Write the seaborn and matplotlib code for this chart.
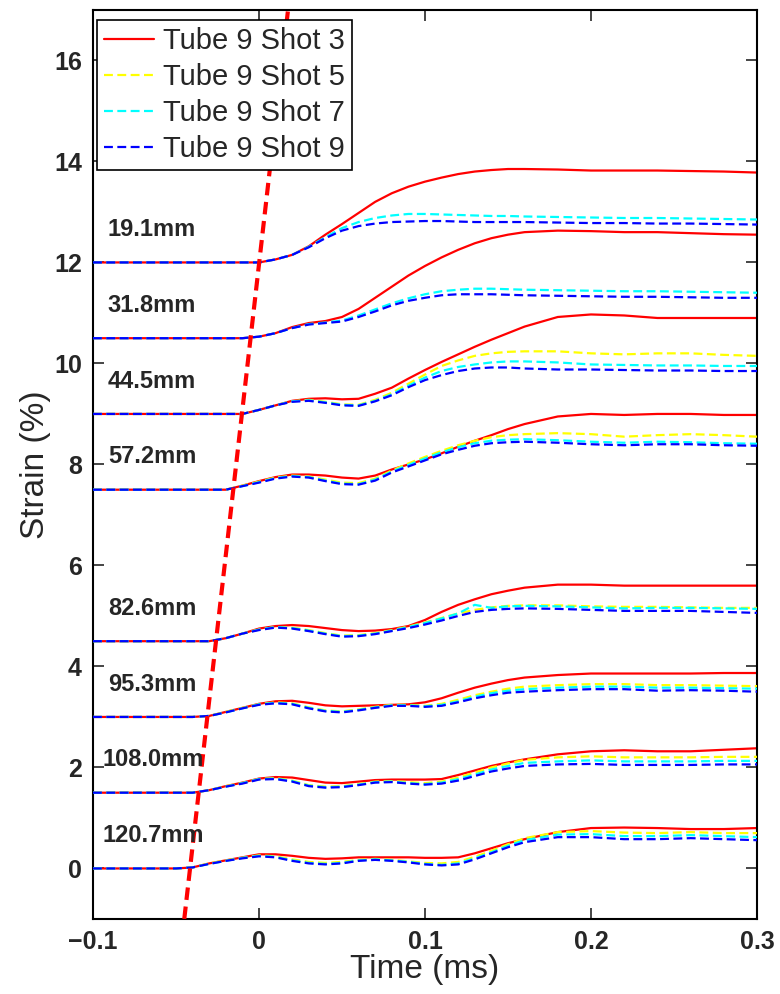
import numpy as np
import matplotlib
matplotlib.use("Agg")
import matplotlib.pyplot as plt
import seaborn as sns

# time axis (ms)
time_ms = [-0.1, -0.05, -0.04, -0.03, -0.02, -0.01, 0.0, 0.01, 0.02, 0.03, 0.04,
           0.05, 0.06, 0.07, 0.08, 0.09, 0.10, 0.11, 0.12, 0.13, 0.14, 0.15, 0.16,
           0.18, 0.20, 0.22, 0.24, 0.26, 0.28, 0.30]

gauges = ["19.1mm", "31.8mm", "44.5mm", "57.2mm", "82.6mm", "95.3mm", "108.0mm", "120.7mm"]
offsets = [12, 10.5, 9, 7.5, 4.5, 3, 1.5, 0]

# strain rise above each offset (%), one row per gauge
shot3 = [
    [0, 0, 0, 0, 0, 0, 0, 0.06, 0.15, 0.32, 0.55, 0.76, 0.98, 1.2, 1.37, 1.5, 1.6, 1.68, 1.75, 1.8, 1.83, 1.85, 1.85, 1.84, 1.82, 1.82, 1.82, 1.81, 1.8, 1.78],
    [0, 0, 0, 0, 0, 0, 0.03, 0.1, 0.22, 0.3, 0.34, 0.42, 0.58, 0.8, 1.02, 1.24, 1.43, 1.6, 1.75, 1.88, 1.98, 2.05, 2.1, 2.13, 2.12, 2.1, 2.1, 2.08, 2.06, 2.05],
    [0, 0, 0, 0, 0, 0.0, 0.08, 0.17, 0.26, 0.3, 0.31, 0.29, 0.3, 0.4, 0.52, 0.7, 0.87, 1.03, 1.18, 1.33, 1.47, 1.6, 1.73, 1.92, 1.97, 1.95, 1.9, 1.9, 1.9, 1.9],
    [0, 0, 0, 0, 0.0, 0.08, 0.17, 0.25, 0.3, 0.3, 0.28, 0.24, 0.22, 0.28, 0.4, 0.5, 0.6, 0.72, 0.85, 0.97, 1.08, 1.2, 1.3, 1.45, 1.5, 1.48, 1.5, 1.5, 1.48, 1.48],
    [0, 0, 0, 0.0, 0.06, 0.15, 0.25, 0.3, 0.32, 0.3, 0.26, 0.22, 0.2, 0.21, 0.24, 0.3, 0.42, 0.58, 0.72, 0.83, 0.93, 1.0, 1.06, 1.12, 1.12, 1.1, 1.1, 1.1, 1.1, 1.1],
    [0, 0, 0, 0.02, 0.1, 0.18, 0.26, 0.31, 0.32, 0.28, 0.23, 0.21, 0.22, 0.23, 0.24, 0.25, 0.29, 0.37, 0.48, 0.58, 0.66, 0.73, 0.78, 0.83, 0.86, 0.86, 0.86, 0.86, 0.87, 0.87],
    [0, 0, 0, 0.05, 0.13, 0.2, 0.28, 0.31, 0.3, 0.25, 0.2, 0.19, 0.22, 0.25, 0.26, 0.26, 0.26, 0.27, 0.35, 0.44, 0.53, 0.6, 0.66, 0.76, 0.82, 0.84, 0.82, 0.82, 0.85, 0.88],
    [0, 0, 0.02, 0.1, 0.16, 0.22, 0.28, 0.28, 0.25, 0.21, 0.19, 0.2, 0.22, 0.22, 0.22, 0.22, 0.21, 0.21, 0.22, 0.3, 0.4, 0.5, 0.58, 0.72, 0.8, 0.81, 0.8, 0.78, 0.78, 0.8],
]
shot5 = [
    None,
    None,
    [0, 0, 0, 0, 0, 0.0, 0.08, 0.17, 0.25, 0.28, 0.24, 0.19, 0.18, 0.28, 0.42, 0.6, 0.78, 0.95, 1.06, 1.15, 1.2, 1.23, 1.24, 1.24, 1.2, 1.18, 1.2, 1.2, 1.17, 1.15],
    [0, 0, 0, 0, 0.0, 0.08, 0.16, 0.24, 0.28, 0.26, 0.2, 0.14, 0.13, 0.22, 0.38, 0.52, 0.65, 0.77, 0.88, 0.97, 1.04, 1.08, 1.1, 1.12, 1.1, 1.05, 1.08, 1.1, 1.08, 1.05],
    [0, 0, 0, 0.0, 0.06, 0.15, 0.23, 0.28, 0.27, 0.22, 0.16, 0.11, 0.12, 0.16, 0.22, 0.29, 0.37, 0.46, 0.55, 0.62, 0.67, 0.7, 0.71, 0.71, 0.69, 0.68, 0.68, 0.67, 0.66, 0.66],
    [0, 0, 0, 0.02, 0.1, 0.18, 0.25, 0.29, 0.27, 0.19, 0.13, 0.11, 0.15, 0.2, 0.24, 0.24, 0.22, 0.26, 0.34, 0.43, 0.5, 0.56, 0.6, 0.63, 0.65, 0.65, 0.63, 0.63, 0.62, 0.61],
    [0, 0, 0, 0.05, 0.13, 0.19, 0.27, 0.29, 0.24, 0.15, 0.12, 0.13, 0.17, 0.22, 0.23, 0.21, 0.19, 0.22, 0.3, 0.4, 0.5, 0.58, 0.65, 0.7, 0.72, 0.7, 0.7, 0.7, 0.71, 0.71],
    [0, 0, 0.02, 0.1, 0.16, 0.21, 0.26, 0.24, 0.18, 0.13, 0.11, 0.13, 0.17, 0.19, 0.17, 0.14, 0.11, 0.1, 0.13, 0.23, 0.35, 0.48, 0.6, 0.72, 0.74, 0.71, 0.7, 0.72, 0.7, 0.7],
]
shot7 = [
    [0, 0, 0, 0, 0, 0, 0, 0.06, 0.15, 0.31, 0.5, 0.68, 0.8, 0.88, 0.93, 0.96, 0.96, 0.95, 0.94, 0.93, 0.92, 0.92, 0.91, 0.9, 0.89, 0.88, 0.88, 0.87, 0.86, 0.85],
    [0, 0, 0, 0, 0, 0, 0.03, 0.1, 0.2, 0.28, 0.31, 0.35, 0.45, 0.57, 0.69, 0.79, 0.87, 0.93, 0.96, 0.98, 0.98, 0.97, 0.96, 0.95, 0.94, 0.93, 0.93, 0.92, 0.91, 0.9],
    [0, 0, 0, 0, 0, 0.0, 0.08, 0.17, 0.25, 0.27, 0.23, 0.18, 0.17, 0.26, 0.39, 0.56, 0.72, 0.85, 0.93, 0.98, 1.02, 1.04, 1.04, 1.02, 0.98, 0.97, 0.96, 0.96, 0.95, 0.95],
    [0, 0, 0, 0, 0.0, 0.07, 0.15, 0.23, 0.27, 0.25, 0.18, 0.12, 0.11, 0.2, 0.36, 0.49, 0.62, 0.74, 0.84, 0.92, 0.97, 0.99, 1.0, 0.98, 0.95, 0.93, 0.95, 0.94, 0.92, 0.91],
    [0, 0, 0, 0.0, 0.06, 0.15, 0.23, 0.28, 0.26, 0.21, 0.15, 0.1, 0.11, 0.15, 0.21, 0.28, 0.36, 0.45, 0.55, 0.72, 0.66, 0.69, 0.7, 0.69, 0.67, 0.65, 0.66, 0.66, 0.65, 0.64],
    [0, 0, 0, 0.02, 0.09, 0.17, 0.25, 0.28, 0.26, 0.18, 0.12, 0.1, 0.14, 0.19, 0.23, 0.23, 0.21, 0.24, 0.31, 0.4, 0.47, 0.52, 0.55, 0.58, 0.6, 0.6, 0.58, 0.58, 0.57, 0.56],
    [0, 0, 0, 0.05, 0.12, 0.19, 0.27, 0.28, 0.23, 0.14, 0.11, 0.12, 0.16, 0.21, 0.22, 0.19, 0.17, 0.2, 0.27, 0.36, 0.46, 0.53, 0.59, 0.62, 0.64, 0.62, 0.62, 0.62, 0.63, 0.63],
    [0, 0, 0.02, 0.09, 0.15, 0.21, 0.25, 0.23, 0.16, 0.11, 0.09, 0.11, 0.16, 0.18, 0.16, 0.13, 0.09, 0.07, 0.1, 0.2, 0.32, 0.45, 0.56, 0.67, 0.68, 0.64, 0.64, 0.66, 0.64, 0.62],
]
shot9 = [
    [0, 0, 0, 0, 0, 0, 0, 0.06, 0.15, 0.3, 0.48, 0.63, 0.72, 0.77, 0.8, 0.81, 0.82, 0.82, 0.81, 0.8, 0.8, 0.8, 0.8, 0.79, 0.78, 0.78, 0.77, 0.77, 0.76, 0.75],
    [0, 0, 0, 0, 0, 0, 0.03, 0.1, 0.2, 0.27, 0.3, 0.33, 0.42, 0.53, 0.65, 0.74, 0.8, 0.85, 0.87, 0.87, 0.87, 0.86, 0.85, 0.84, 0.83, 0.82, 0.82, 0.81, 0.8, 0.8],
    [0, 0, 0, 0, 0, 0.0, 0.08, 0.17, 0.24, 0.26, 0.22, 0.17, 0.16, 0.25, 0.37, 0.53, 0.67, 0.77, 0.85, 0.9, 0.92, 0.92, 0.9, 0.88, 0.88, 0.87, 0.86, 0.86, 0.85, 0.85],
    [0, 0, 0, 0, 0.0, 0.07, 0.14, 0.22, 0.26, 0.24, 0.17, 0.11, 0.1, 0.18, 0.34, 0.46, 0.58, 0.7, 0.79, 0.87, 0.92, 0.94, 0.95, 0.93, 0.9, 0.88, 0.9, 0.9, 0.88, 0.87],
    [0, 0, 0, 0.0, 0.06, 0.15, 0.22, 0.27, 0.25, 0.2, 0.14, 0.09, 0.1, 0.14, 0.2, 0.26, 0.33, 0.41, 0.5, 0.58, 0.62, 0.64, 0.65, 0.64, 0.62, 0.6, 0.6, 0.6, 0.58, 0.56],
    [0, 0, 0, 0.02, 0.09, 0.17, 0.24, 0.27, 0.25, 0.17, 0.11, 0.09, 0.13, 0.18, 0.22, 0.22, 0.2, 0.22, 0.29, 0.37, 0.43, 0.48, 0.5, 0.53, 0.55, 0.55, 0.52, 0.53, 0.52, 0.5],
    [0, 0, 0, 0.05, 0.12, 0.18, 0.26, 0.27, 0.22, 0.13, 0.1, 0.11, 0.15, 0.2, 0.21, 0.18, 0.16, 0.18, 0.24, 0.33, 0.42, 0.48, 0.53, 0.56, 0.57, 0.55, 0.55, 0.55, 0.56, 0.56],
    [0, 0, 0.02, 0.09, 0.15, 0.2, 0.24, 0.22, 0.15, 0.1, 0.08, 0.1, 0.15, 0.17, 0.15, 0.12, 0.08, 0.06, 0.08, 0.18, 0.3, 0.42, 0.52, 0.62, 0.62, 0.58, 0.58, 0.6, 0.58, 0.56],
]

# wave arrival line
arrival_t = [-0.045, 0.0175]
arrival_strain = [-1, 17]

series_names = ["Tube 9 Shot 3", "Tube 9 Shot 5", "Tube 9 Shot 7", "Tube 9 Shot 9"]
series_data = [shot3, shot5, shot7, shot9]
series_colors = ["#ff0000", "#ffff00", "#00ffff", "#0000ff"]

xtick_vals = [-0.1, 0, 0.1, 0.2, 0.3]
xtick_labels = ["\u22120.1", "0", "0.1", "0.2", "0.3"]
ytick_vals = [0, 2, 4, 6, 8, 10, 12, 14, 16]

sns.set_style("ticks")
plt.rcParams["font.family"] = ["Liberation Sans", "DejaVu Sans"]
plt.rcParams["xtick.direction"] = "in"
plt.rcParams["ytick.direction"] = "in"

fig = plt.figure(figsize=(7.8, 9.94), dpi=100)
ax = fig.add_axes([0.1192, 0.0755, 0.8513, 0.9145])

t = np.array(time_ms)
for g, base in enumerate(offsets):
    for k, (name, data, col) in enumerate(zip(series_names, series_data, series_colors)):
        row = data[g]
        if row is None:
            continue
        ls = "-" if k == 0 else (0, (4, 2))
        sns.lineplot(x=t, y=base + np.array(row), color=col, linewidth=1.6,
                     linestyle=ls, label=name if g == 0 else None, ax=ax,
                     zorder=2 + k)

# shot 5 has no trace for the first gauge, so add its handle by hand
handles, labels = ax.get_legend_handles_labels()
if "Tube 9 Shot 5" not in labels:
    h5 = plt.Line2D([], [], color=series_colors[1], linewidth=1.6, linestyle=(0, (4, 2)))
    handles.insert(1, h5)
    labels.insert(1, "Tube 9 Shot 5")

sns.lineplot(x=arrival_t, y=arrival_strain, color="#ff0000", linewidth=3,
             linestyle=(0, (3, 1.6)), ax=ax, zorder=10)

for g, (name, base) in enumerate(zip(gauges, offsets)):
    xpos = -0.0945 if len(name) > 6 else -0.091
    ax.text(xpos, base + 0.65, name, fontsize=17, fontweight="bold",
            ha="left", va="center", zorder=11)

ax.set_xlim(-0.1, 0.3)
ax.set_ylim(-1, 17)
ax.set_xticks(xtick_vals)
ax.set_xticklabels(xtick_labels)
ax.set_yticks(ytick_vals)
ax.tick_params(axis="both", which="both", top=True, right=True, length=8,
               width=1.2, labelsize=18, pad=8)
for lab in ax.get_xticklabels() + ax.get_yticklabels():
    lab.set_fontweight("bold")
for sp in ax.spines.values():
    sp.set_color("black")
    sp.set_linewidth(1.5)

ax.set_xlabel("Time (ms)", fontsize=24, labelpad=0)
ax.set_ylabel("Strain (%)", fontsize=24, labelpad=2)

leg = ax.legend(handles, labels, loc="upper left", bbox_to_anchor=(0.006, 0.989),
                fontsize=21, frameon=True, fancybox=False, framealpha=1,
                edgecolor="black", handlelength=1.7, handletextpad=0.3,
                borderpad=0.25, labelspacing=0.27, borderaxespad=0)
leg.get_frame().set_linewidth(1.2)
leg.set_zorder(20)

fig.savefig("out.png", dpi=100)
